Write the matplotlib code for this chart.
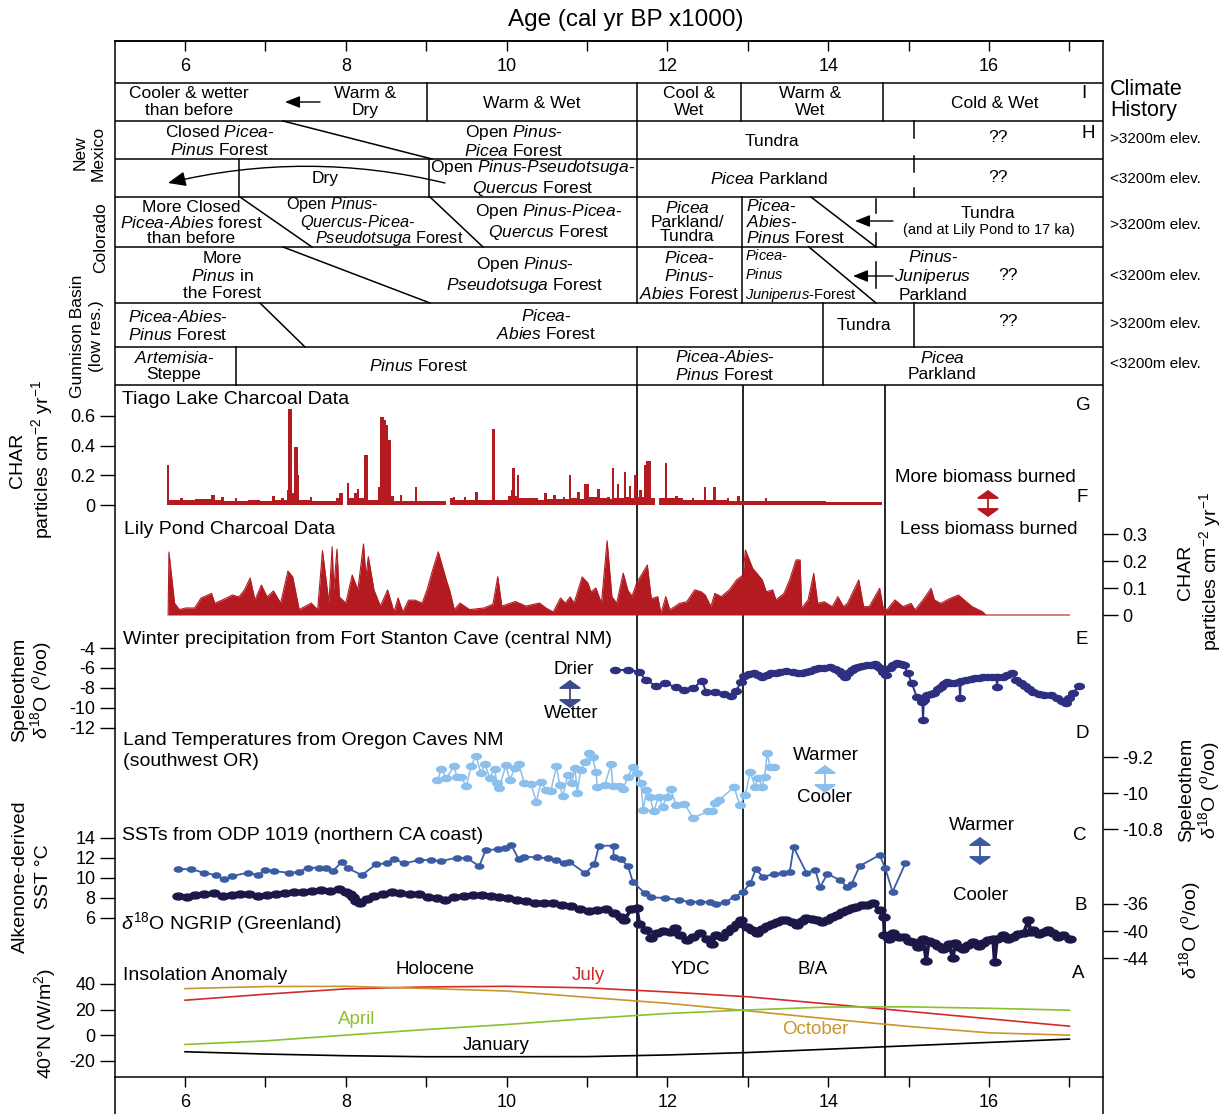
import numpy as np
import matplotlib
matplotlib.use("Agg")
import matplotlib.pyplot as plt
from matplotlib.path import Path
from matplotlib.transforms import Affine2D

plt.rcParams['font.family'] = ['Liberation Sans', 'DejaVu Sans']
plt.rcParams['mathtext.fontset'] = 'custom'
plt.rcParams['mathtext.rm'] = 'Liberation Sans'
plt.rcParams['mathtext.it'] = 'Liberation Sans:italic'
plt.rcParams['mathtext.bf'] = 'Liberation Sans:bold'
plt.rcParams['axes.unicode_minus'] = False

# ---------------------------------------------------------
# Data (ages in cal yr BP x1000)
# ---------------------------------------------------------
event_ages = [11.62, 12.94, 14.71]   # YDC / B-A boundaries

# Tiago Lake CHAR (step series: value holds until next age)
tiago = np.array([
    [5.77, 0.27], [5.80, 0.035], [5.94, 0.045], [5.97, 0.035], [6.12, 0.04],
    [6.32, 0.07], [6.37, 0.035], [6.45, 0.055], [6.49, 0.03], [6.62, 0.045],
    [6.65, 0.03], [6.78, 0.035], [6.93, 0.03], [7.08, 0.06], [7.12, 0.035],
    [7.20, 0.045], [7.23, 0.035], [7.27, 0.10], [7.28, 0.65], [7.33, 0.08],
    [7.36, 0.39], [7.40, 0.20], [7.42, 0.035], [7.55, 0.055], [7.58, 0.03],
    [7.75, 0.03], [7.88, 0.05], [7.92, 0.08], [7.96, 0.0], [8.01, 0.15],
    [8.04, 0.05], [8.10, 0.08], [8.14, 0.11], [8.17, 0.045], [8.23, 0.34],
    [8.27, 0.035], [8.40, 0.12], [8.42, 0.59], [8.47, 0.57], [8.50, 0.54],
    [8.53, 0.44], [8.56, 0.06], [8.60, 0.03], [8.67, 0.065], [8.70, 0.03],
    [8.86, 0.12], [8.89, 0.03], [9.00, 0.025], [9.25, 0.0], [9.29, 0.045],
    [9.33, 0.055], [9.36, 0.035], [9.47, 0.055], [9.50, 0.035], [9.61, 0.09],
    [9.64, 0.035], [9.82, 0.51], [9.85, 0.035], [10.02, 0.06], [10.05, 0.10],
    [10.07, 0.25], [10.10, 0.06], [10.13, 0.20], [10.16, 0.05], [10.26, 0.045],
    [10.36, 0.045], [10.39, 0.035], [10.47, 0.08], [10.50, 0.04], [10.58, 0.07],
    [10.61, 0.04], [10.70, 0.055], [10.73, 0.04], [10.77, 0.20], [10.80, 0.045],
    [10.88, 0.09], [10.91, 0.04], [10.96, 0.14], [11.02, 0.055], [11.13, 0.11],
    [11.16, 0.045], [11.25, 0.055], [11.28, 0.04], [11.31, 0.25], [11.34, 0.045],
    [11.37, 0.14], [11.40, 0.045], [11.46, 0.22], [11.49, 0.055], [11.52, 0.13],
    [11.55, 0.045], [11.59, 0.20], [11.62, 0.055], [11.65, 0.10], [11.68, 0.055],
    [11.71, 0.27], [11.74, 0.30], [11.79, 0.05], [11.85, 0.0], [11.90, 0.045],
    [11.97, 0.28], [12.00, 0.045], [12.10, 0.06], [12.13, 0.045], [12.16, 0.05],
    [12.19, 0.035], [12.30, 0.045], [12.33, 0.035], [12.45, 0.12], [12.48, 0.035],
    [12.57, 0.12], [12.60, 0.035], [12.74, 0.045], [12.77, 0.03], [12.87, 0.06],
    [12.90, 0.03], [13.21, 0.045], [13.24, 0.025], [13.94, 0.03], [13.97, 0.022],
    [14.67, 0.0],
])

# Lily Pond CHAR
lily = np.array([
    [5.79, 0.0], [5.80, 0.233], [5.87, 0.044], [5.93, 0.02], [6.01, 0.026],
    [6.12, 0.026], [6.20, 0.063], [6.33, 0.08], [6.37, 0.044], [6.46, 0.055],
    [6.59, 0.074], [6.67, 0.067], [6.74, 0.093], [6.81, 0.137], [6.87, 0.055],
    [6.95, 0.111], [7.02, 0.067], [7.10, 0.089], [7.19, 0.044], [7.28, 0.163],
    [7.34, 0.141], [7.42, 0.02], [7.57, 0.044], [7.65, 0.02], [7.71, 0.238],
    [7.79, 0.044], [7.83, 0.253], [7.85, 0.093], [7.89, 0.244], [7.92, 0.067],
    [8.00, 0.044], [8.08, 0.148], [8.15, 0.093], [8.22, 0.263], [8.25, 0.141],
    [8.28, 0.216], [8.35, 0.093], [8.43, 0.033], [8.52, 0.093], [8.60, 0.011],
    [8.65, 0.063], [8.71, 0.011], [8.78, 0.055], [8.86, 0.055], [8.95, 0.044],
    [9.01, 0.093], [9.08, 0.167], [9.15, 0.234], [9.25, 0.13], [9.29, 0.093],
    [9.35, 0.02], [9.42, 0.044], [9.54, 0.02], [9.72, 0.026], [9.83, 0.04],
    [9.89, 0.142], [9.94, 0.033], [10.11, 0.05], [10.24, 0.033], [10.34, 0.04],
    [10.41, 0.044], [10.49, 0.026], [10.58, 0.011], [10.67, 0.063], [10.73, 0.044],
    [10.79, 0.067], [10.84, 0.044], [10.94, 0.141], [11.01, 0.119], [11.05, 0.085],
    [11.11, 0.10], [11.18, 0.044], [11.25, 0.275], [11.31, 0.067], [11.37, 0.044],
    [11.45, 0.155], [11.51, 0.09], [11.56, 0.07], [11.62, 0.12], [11.68, 0.15],
    [11.75, 0.185], [11.80, 0.06], [11.88, 0.068], [11.92, 0.006], [11.98, 0.068],
    [12.03, 0.019], [12.15, 0.043], [12.24, 0.049], [12.34, 0.093], [12.42, 0.086],
    [12.47, 0.074], [12.54, 0.031], [12.59, 0.08], [12.67, 0.068], [12.77, 0.093],
    [12.86, 0.13], [12.94, 0.148], [12.97, 0.241], [13.06, 0.173], [13.18, 0.13],
    [13.23, 0.086], [13.31, 0.093], [13.35, 0.056], [13.45, 0.08], [13.52, 0.13],
    [13.60, 0.204], [13.65, 0.204], [13.67, 0.025], [13.75, 0.056], [13.82, 0.154],
    [13.87, 0.043], [13.95, 0.049], [14.05, 0.031], [14.12, 0.068], [14.19, 0.031],
    [14.24, 0.043], [14.38, 0.13], [14.44, 0.031], [14.51, 0.031], [14.64, 0.099],
    [14.68, 0.031], [14.73, 0.019], [14.83, 0.056], [14.93, 0.031], [15.03, 0.043],
    [15.08, 0.019], [15.18, 0.056], [15.28, 0.099], [15.32, 0.056], [15.40, 0.043],
    [15.52, 0.062], [15.62, 0.074], [15.69, 0.056], [15.79, 0.031], [15.92, 0.012],
    [15.96, 0.0], [17.00, 0.0],
])

# Fort Stanton Cave speleothem d18O
stanton = np.array([
    [11.35, -6.2], [11.51, -6.2], [11.65, -6.37], [11.73, -7.2], [11.86, -7.8],
    [11.97, -7.53], [12.11, -7.93], [12.21, -8.2], [12.32, -8.03], [12.43, -7.27],
    [12.48, -8.37], [12.59, -8.43], [12.70, -8.63], [12.79, -8.8], [12.85, -8.3],
    [12.92, -7.37], [12.95, -6.8], [13.02, -6.6], [13.08, -6.53], [13.13, -6.7],
    [13.18, -6.87], [13.24, -6.7], [13.29, -6.53], [13.35, -6.45], [13.40, -6.37],
    [13.48, -6.3], [13.56, -6.37], [13.62, -6.45], [13.67, -6.53], [13.72, -6.4],
    [13.77, -6.27], [13.83, -6.1], [13.89, -6.03], [13.95, -5.95], [14.02, -5.93],
    [14.08, -6.1], [14.13, -6.27], [14.17, -6.6], [14.21, -6.87], [14.25, -6.5],
    [14.29, -6.2], [14.33, -6.0], [14.37, -5.87], [14.42, -5.8], [14.48, -5.7],
    [14.53, -5.65], [14.58, -5.6], [14.61, -5.8], [14.64, -6.03], [14.68, -6.4],
    [14.72, -6.7], [14.77, -6.03], [14.81, -5.7], [14.86, -5.53], [14.90, -5.55],
    [14.94, -5.7], [14.99, -6.53], [15.04, -7.53], [15.10, -8.87], [15.17, -9.37],
    [15.18, -11.2], [15.19, -9.2], [15.23, -8.7], [15.28, -8.6], [15.32, -8.47],
    [15.36, -8.1], [15.40, -7.87], [15.44, -7.6], [15.48, -7.37], [15.52, -7.45],
    [15.56, -7.53], [15.63, -7.4], [15.64, -9.0], [15.65, -7.3], [15.72, -7.2],
    [15.78, -7.1], [15.83, -7.03], [15.88, -6.95], [15.93, -6.87], [15.98, -6.9],
    [16.04, -6.87], [16.09, -6.9], [16.10, -7.87], [16.11, -6.9], [16.17, -6.87],
    [16.23, -6.7], [16.29, -6.53], [16.34, -7.2], [16.40, -7.5], [16.45, -7.8],
    [16.50, -8.1], [16.55, -8.37], [16.62, -8.6], [16.69, -8.7], [16.77, -8.7],
    [16.85, -9.03], [16.91, -9.3], [16.96, -9.53], [17.00, -9.0], [17.04, -8.53],
    [17.12, -7.8],
])

# Oregon Caves speleothem d18O
oregon = np.array([
    [9.14, -9.71], [9.19, -9.47], [9.25, -9.67], [9.35, -9.40], [9.38, -9.65],
    [9.43, -9.65], [9.50, -9.84], [9.56, -9.39], [9.62, -9.18], [9.68, -9.55],
    [9.73, -9.36], [9.79, -9.66], [9.85, -9.47], [9.88, -9.77], [9.91, -9.88],
    [9.99, -9.38], [10.04, -9.71], [10.10, -9.45], [10.15, -9.36], [10.22, -9.77],
    [10.30, -9.79], [10.37, -10.19], [10.43, -9.75], [10.49, -9.93], [10.55, -9.96],
    [10.62, -9.40], [10.66, -9.82], [10.70, -10.07], [10.76, -9.60], [10.81, -9.77],
    [10.85, -9.45], [10.88, -10.00], [10.92, -9.49], [10.98, -9.32], [11.02, -9.10],
    [11.07, -9.20], [11.11, -9.53], [11.13, -9.86], [11.22, -9.82], [11.30, -9.36],
    [11.32, -9.84], [11.40, -9.84], [11.45, -9.90], [11.51, -9.64], [11.57, -9.43],
    [11.62, -9.55], [11.67, -9.77], [11.70, -10.38], [11.74, -9.93], [11.78, -10.08],
    [11.83, -10.41], [11.89, -10.08], [11.94, -10.30], [11.99, -10.08], [12.04, -9.92],
    [12.11, -10.27], [12.21, -10.24], [12.32, -10.55], [12.51, -10.41], [12.56, -10.41],
    [12.59, -10.23], [12.64, -10.16], [12.83, -9.87], [12.90, -10.27], [12.97, -10.04],
    [13.03, -9.53], [13.09, -9.86], [13.13, -9.67], [13.18, -9.86], [13.21, -9.64],
    [13.24, -9.12], [13.28, -9.43], [13.33, -9.43],
])

# ODP 1019 alkenone SST (deg C)
sst = np.array([
    [5.91, 10.85], [6.07, 10.85], [6.24, 10.48], [6.38, 10.25], [6.49, 9.82],
    [6.58, 10.15], [6.78, 10.48], [6.91, 10.25], [7.00, 10.75], [7.11, 10.65],
    [7.29, 10.48], [7.42, 10.58], [7.53, 10.98], [7.67, 10.98], [7.75, 10.98],
    [7.84, 10.65], [7.95, 11.58], [8.03, 10.92], [8.20, 10.25], [8.38, 11.35],
    [8.51, 11.42], [8.60, 11.85], [8.73, 11.42], [8.91, 11.75], [9.06, 11.75],
    [9.18, 11.65], [9.38, 11.98], [9.51, 11.92], [9.66, 11.15], [9.74, 12.75],
    [9.89, 12.82], [9.98, 12.92], [10.06, 13.25], [10.15, 11.82], [10.22, 12.08],
    [10.38, 12.02], [10.51, 11.92], [10.62, 11.75], [10.71, 11.48], [10.78, 11.58],
    [10.98, 10.42], [11.09, 11.32], [11.15, 13.18], [11.33, 13.18], [11.33, 12.02],
    [11.42, 11.82], [11.51, 11.15], [11.57, 9.58], [11.72, 8.42], [11.80, 8.02],
    [11.97, 7.98], [12.14, 7.75], [12.28, 7.58], [12.41, 7.58], [12.53, 7.58],
    [12.61, 7.35], [12.72, 7.58], [12.84, 8.08], [12.94, 8.58], [13.03, 9.42],
    [13.10, 10.82], [13.19, 10.08], [13.32, 10.35], [13.44, 10.42], [13.52, 10.52],
    [13.57, 13.02], [13.73, 10.48], [13.84, 10.75], [13.90, 9.08], [13.99, 10.35],
    [14.15, 9.75], [14.23, 9.08], [14.29, 9.32], [14.39, 11.15], [14.64, 12.25],
    [14.71, 10.92], [14.80, 8.58], [14.96, 11.42],
])

# NGRIP d18O (permil)
ngrip = np.array([
    [5.91, -34.8], [6.02, -34.9], [6.13, -34.7], [6.24, -34.6], [6.36, -34.4],
    [6.47, -34.8], [6.58, -34.7], [6.69, -34.5], [6.80, -34.5], [6.91, -34.8],
    [7.02, -34.7], [7.13, -34.5], [7.24, -34.4], [7.35, -34.3], [7.47, -34.2],
    [7.58, -34.1], [7.69, -34.0], [7.80, -34.1], [7.91, -33.8], [8.00, -34.2],
    [8.05, -34.6], [8.09, -34.9], [8.13, -35.5], [8.18, -35.8], [8.26, -35.2],
    [8.35, -34.8], [8.46, -34.5], [8.57, -34.3], [8.68, -34.4], [8.80, -34.5],
    [8.91, -34.6], [9.02, -34.9], [9.13, -35.1], [9.24, -35.4], [9.35, -35.0],
    [9.47, -34.8], [9.58, -34.7], [9.69, -34.7], [9.80, -34.8], [9.91, -34.9],
    [10.02, -35.1], [10.13, -35.4], [10.24, -35.6], [10.35, -35.8], [10.46, -35.8],
    [10.58, -35.9], [10.69, -36.1], [10.80, -36.3], [10.91, -36.7], [11.02, -37.0],
    [11.13, -36.9], [11.24, -36.8], [11.33, -37.3], [11.42, -37.9], [11.46, -38.4],
    [11.55, -36.8], [11.62, -36.6], [11.65, -38.9], [11.74, -39.9], [11.80, -41.0],
    [11.87, -40.3], [11.95, -40.0], [12.03, -40.1], [12.10, -39.6], [12.16, -40.6],
    [12.24, -41.3], [12.32, -40.8], [12.40, -40.2], [12.49, -41.1], [12.55, -41.9],
    [12.61, -40.6], [12.68, -40.9], [12.74, -40.1], [12.80, -39.5], [12.86, -38.9],
    [12.92, -38.4], [12.99, -39.4], [13.05, -39.8], [13.11, -40.3], [13.18, -39.7],
    [13.24, -39.3], [13.30, -38.9], [13.36, -38.6], [13.42, -38.4], [13.48, -38.3],
    [13.55, -38.7], [13.61, -39.1], [13.67, -38.5], [13.73, -38.1], [13.80, -38.2],
    [13.86, -38.3], [13.92, -38.6], [13.98, -38.4], [14.05, -37.9], [14.11, -37.6],
    [14.17, -37.2], [14.23, -36.9], [14.29, -36.6], [14.35, -36.4], [14.42, -36.2],
    [14.48, -36.1], [14.56, -35.9], [14.64, -36.9], [14.69, -37.9], [14.70, -40.6],
    [14.75, -41.2], [14.81, -40.3], [14.88, -40.9], [14.94, -40.8], [15.00, -41.4],
    [15.06, -41.6], [15.12, -42.3], [15.18, -41.1], [15.22, -44.4], [15.25, -41.5],
    [15.31, -41.8], [15.37, -42.2], [15.43, -42.6], [15.50, -41.9], [15.55, -44.0],
    [15.58, -41.8], [15.63, -42.3], [15.68, -42.6], [15.74, -42.0], [15.80, -41.6],
    [15.87, -42.2], [15.93, -41.8], [15.99, -41.3], [16.05, -41.1], [16.07, -44.5],
    [16.10, -41.2], [16.18, -40.6], [16.24, -41.2], [16.30, -40.8], [16.36, -40.4],
    [16.43, -40.3], [16.49, -38.4], [16.52, -40.1], [16.55, -39.9], [16.62, -40.4],
    [16.68, -40.1], [16.74, -39.8], [16.80, -40.3], [16.86, -40.8], [16.92, -40.6],
    [17.01, -41.1],
])

# 40N insolation anomaly (W/m2)
ins_age = [6, 7, 8, 9, 10, 11, 12, 13, 14, 15, 16, 17]
ins_july = [27.3, 32.0, 36.2, 37.7, 38.2, 37.0, 33.8, 30.0, 24.4, 18.6, 12.8, 7.0]
ins_oct = [36.4, 38.0, 38.2, 36.5, 34.5, 29.6, 24.9, 19.0, 12.7, 6.8, 1.8, 0.0]
ins_apr = [-7.3, -4.5, 0.0, 4.4, 8.3, 12.9, 16.9, 19.7, 22.0, 22.1, 21.0, 19.5]
ins_jan = [-13.0, -14.8, -16.1, -16.9, -16.9, -16.8, -15.5, -13.6, -11.0, -8.3, -5.7, -3.1]

age_ticks = list(range(6, 18))
age_labels = [str(a) if a % 2 == 0 else '' for a in age_ticks]

# ---------------------------------------------------------
# Figure geometry (pixels)
# ---------------------------------------------------------
W, H = 1231, 1114
L_PX, R_PX = 115, 1103
PX6, PX_PER_KYR = 185, 80.4
X0 = 6 - (PX6 - L_PX) / PX_PER_KYR
X1 = 6 + (R_PX - PX6) / PX_PER_KYR
LS = 1.13

RED = '#b31b21'
NAVY = '#2e2f80'
LBLUE = '#8bbfec'
SBLUE = '#3b5ba2'
DNAVY = '#1b1848'

fig = plt.figure(figsize=(W / 100, H / 100), dpi=100)

# frame axes in pixel coordinates (y down)
ax = fig.add_axes([L_PX / W, 0, (R_PX - L_PX) / W, (H - 41) / H])
ax.set_xlim(L_PX, R_PX)
ax.set_ylim(H, 41)
ax.set_xticks([])
ax.set_yticks([])
ax.patch.set_alpha(0)
ax.spines['bottom'].set_visible(False)
for s in ax.spines.values():
    s.set_linewidth(1.1)


def scale_axis(y_px):
    a = fig.add_axes([L_PX / W, 1 - y_px / H, (R_PX - L_PX) / W, 0.0005])
    a.set_xlim(X0, X1)
    for s in ['top', 'left', 'right']:
        a.spines[s].set_visible(False)
    a.spines['bottom'].set_linewidth(1.1)
    a.patch.set_alpha(0)
    a.set_yticks([])
    a.set_xticks(age_ticks)
    a.set_xticklabels(age_labels)
    a.tick_params(axis='x', direction='out', length=7, width=1, pad=5, labelsize=13)
    return a


scale_axis(41)
scale_axis(1077)

# event lines
ev = fig.add_axes([L_PX / W, 1 - 1077 / H, (R_PX - L_PX) / W, (1077 - 385) / H])
ev.set_xlim(X0, X1)
ev.axis('off')
for a in event_ages:
    ev.axvline(a, color='k', lw=1.2)

# ---------------------------------------------------------
# Climate / vegetation table
# ---------------------------------------------------------
for y in [83, 121, 159, 197, 247, 303, 347, 385]:
    ax.plot([L_PX, R_PX], [y, y], color='k', lw=1.1)

vsegs = [(427, 83, 121), (637, 83, 121), (741, 83, 121), (883, 83, 121),
         (637, 121, 159),
         (239, 159, 197), (429, 159, 197), (637, 159, 197),
         (637, 197, 247), (742, 197, 247), (876, 199, 213), (876, 233, 247),
         (637, 247, 303), (742, 247, 303), (876, 262, 288),
         (823, 303, 347), (914, 303, 347),
         (236, 347, 385), (637, 347, 385), (823, 347, 385),
         (914, 121, 138), (914, 156, 172), (914, 188, 197)]
for x, y0, y1 in vsegs:
    ax.plot([x, x], [y0, y1], color='k', lw=1.1)

diags = [(283, 121, 432, 159), (240, 197, 312, 247), (430, 197, 483, 247),
         (811, 197, 876, 247), (283, 247, 430, 303), (809, 247, 876, 303),
         (260, 303, 305, 347)]
for x0, y0, x1, y1 in diags:
    ax.plot([x0, x1], [y0, y1], color='k', lw=1.1)


def it(s):
    return r'$\mathit{' + s + '}$'


def t(x, y, s, fs=12.5, ha='center', color='k', ls=LS):
    ax.text(x, y, s, fontsize=fs, ha=ha, va='center', color=color,
            linespacing=ls, multialignment='center' if ha == 'center' else ha)


# row I
t(189, 102, 'Cooler & wetter\nthan before')
t(365, 102, 'Warm &\nDry')
t(532, 103, 'Warm & Wet')
t(689, 102, 'Cool &\nWet')
t(810, 102, 'Warm &\nWet')
t(995, 103, 'Cold & Wet')
t(1084, 94, 'I', fs=13.5)
# row H1
t(220, 141, 'Closed ' + it('Picea') + '-\n' + it('Pinus') + ' Forest')
t(514, 141, 'Open ' + it('Pinus') + '-\n' + it('Picea') + ' Forest')
t(772, 141, 'Tundra')
t(998, 137, '??')
t(1088, 133, 'H', fs=13.5)
# row H2
t(325, 179, 'Dry')
t(533, 178, 'Open ' + it('Pinus') + '-' + it('Pseudotsuga') + '-\n' + it('Quercus') + ' Forest')
t(769, 179, it('Picea') + ' Parkland')
t(998, 178, '??')
# row C1
t(191, 223, 'More Closed\n' + it('Picea') + '-' + it('Abies') + ' forest\nthan before', ls=0.97)
t(332, 205, 'Open ' + it('Pinus') + '-', fs=11.8)
t(358, 222, it('Quercus') + '-' + it('Picea') + '-', fs=11.8)
t(389, 239, it('Pseudotsuga') + ' Forest', fs=11.8)
t(549, 222, 'Open ' + it('Pinus') + '-' + it('Picea') + '-\n' + it('Quercus') + ' Forest')
t(687, 222, it('Picea') + '\nParkland/\nTundra', ls=0.93)
t(746, 222, it('Picea') + '-\n' + it('Abies') + '-\n' + it('Pinus') + ' Forest', ha='left', ls=0.97)
t(988, 214, 'Tundra')
t(989, 230, '(and at Lily Pond to 17 ka)', fs=10.5)
# row C2
t(222, 276, 'More\n' + it('Pinus') + ' in\nthe Forest')
t(525, 275, 'Open ' + it('Pinus') + '-\n' + it('Pseudotsuga') + ' Forest')
t(689, 276, it('Picea') + '-\n' + it('Pinus') + '-\n' + it('Abies') + ' Forest')
t(745, 276, it('Picea') + '-\n' + it('Pinus') + '\n' + it('Juniperus') + '-Forest', fs=10.5,
  ha='left', ls=1.36)
t(933, 276, it('Pinus') + '-\n' + it('Juniperus') + '\nParkland')
t(1008, 276, '??')
# row G1
t(178, 326, it('Picea') + '-' + it('Abies') + '-\n' + it('Pinus') + ' Forest')
t(546, 325, it('Picea') + '-\n' + it('Abies') + ' Forest')
t(864, 325, 'Tundra')
t(1008, 322, '??')
# row G2
t(174, 366, it('Artemisia') + '-\nSteppe')
t(419, 366, it('Pinus') + ' Forest')
t(725, 366, it('Picea') + '-' + it('Abies') + '-\n' + it('Pinus') + ' Forest')
t(942, 366, it('Picea') + '\nParkland')

# arrows in table
arrow_k = dict(arrowstyle='-|>,head_length=0.5,head_width=0.2', color='k', lw=1.0,
               shrinkA=0, shrinkB=0, mutation_scale=18)
ax.annotate('', xy=(285, 102), xytext=(320, 102), arrowprops=arrow_k)
ax.annotate('', xy=(855, 221), xytext=(893, 221), arrowprops=arrow_k)
ax.annotate('', xy=(853, 276), xytext=(893, 276), arrowprops=arrow_k)
ax.annotate('', xy=(168, 183), xytext=(445, 183),
            arrowprops=dict(arrowstyle='-|>,head_length=0.6,head_width=0.25', color='k',
                            lw=1.0, shrinkA=0, shrinkB=0, mutation_scale=18,
                            connectionstyle='arc3,rad=0.12'))

# side labels of table
t(1110, 100, 'Climate\nHistory', fs=15.5, ha='left', ls=0.95)
for y, s in [(139, '>3200m elev.'), (179, '<3200m elev.'), (225, '>3200m elev.'),
             (276, '<3200m elev.'), (324, '>3200m elev.'), (364, '<3200m elev.')]:
    t(1110, y, s, fs=11, ha='left')
ax.text(89, 153, 'New\nMexico', rotation=90, fontsize=12.5, ha='center', va='center',
        multialignment='center', linespacing=1.3)
ax.text(101, 238, 'Colorado', rotation=90, fontsize=12.5, ha='center', va='center')
ax.text(87, 336, 'Gunnison Basin\n(low res.)', rotation=90, fontsize=12.5, ha='center',
        va='center', multialignment='center', linespacing=1.25)

fig.text(626 / W, 1 - 20 / H, 'Age (cal yr BP x1000)', fontsize=17.5, ha='center', va='center')


# ---------------------------------------------------------
# Data panels
# ---------------------------------------------------------
def panel(top, bot, cal, side, ticks, labels):
    (v1, y1), (v2, y2) = cal
    k = (v2 - v1) / (y2 - y1)
    a = fig.add_axes([L_PX / W, 1 - bot / H, (R_PX - L_PX) / W, (bot - top) / H])
    a.set_xlim(X0, X1)
    a.set_ylim(v1 + (bot - y1) * k, v1 + (top - y1) * k)
    a.patch.set_alpha(0)
    for s in a.spines.values():
        s.set_visible(False)
    a.set_xticks([])
    a.yaxis.set_ticks_position(side)
    a.set_yticks(ticks)
    a.set_yticklabels(labels)
    a.tick_params(axis='y', direction='out', length=11, width=1, pad=3, labelsize=13)
    return a


ell = Path.unit_circle().transformed(Affine2D().scale(1.6, 1.0))

# G: Tiago Lake
ag = panel(388, 512, [(0, 505), (0.6, 416)], 'left', [0, 0.2, 0.4, 0.6],
           ['0', '0.2', '0.4', '0.6'])
ag.fill_between(tiago[:, 0], tiago[:, 1], 0, step='post', color=RED, lw=0)

# F: Lily Pond
af = panel(520, 622, [(0, 615), (0.3, 534)], 'right', [0, 0.1, 0.2, 0.3],
           ['0', '0.1', '0.2', '0.3'])
af.fill_between(lily[:, 0], lily[:, 1], 0, color=RED, lw=0)
af.plot(lily[:, 0], lily[:, 1], color=RED, lw=0.8)

# E: Fort Stanton
ae = panel(636, 740, [(-4, 648), (-12, 728)], 'left', [-12, -10, -8, -6, -4],
           ['-12', '-10', '-8', '-6', '-4'])
ae.plot(stanton[:, 0], stanton[:, 1], color=NAVY, lw=1.4, marker=ell, ms=7,
        mec=NAVY, mfc=NAVY)

# D: Oregon Caves
ad = panel(736, 840, [(-9.2, 757), (-10.8, 829)], 'right', [-10.8, -10, -9.2],
           ['-10.8', '-10', '-9.2'])
ad.plot(oregon[:, 0], oregon[:, 1], color=LBLUE, lw=1.1, marker=ell, ms=7,
        mec=LBLUE, mfc=LBLUE)

# C: ODP 1019 SST
ac = panel(826, 930, [(14, 837.5), (6, 917.7)], 'left', [6, 8, 10, 12, 14],
           ['6', '8', '10', '12', '14'])
ac.plot(sst[:, 0], sst[:, 1], color=SBLUE, lw=1.3, marker=ell, ms=6,
        mec=SBLUE, mfc=SBLUE)

# B: NGRIP
ab = panel(880, 970, [(-36, 904), (-44, 958.3)], 'right', [-44, -40, -36],
           ['-44', '-40', '-36'])
ab.plot(ngrip[:, 0], ngrip[:, 1], color=DNAVY, lw=2.6, marker=ell, ms=8,
        mec=DNAVY, mfc=DNAVY)

# A: insolation
aa = panel(962, 1075, [(40, 984), (-20, 1060.7)], 'left', [-20, 0, 20, 40],
           ['-20', '0', '20', '40'])
aa.plot(ins_age, ins_july, color='#d22a2a', lw=1.2)
aa.plot(ins_age, ins_oct, color='#c8962b', lw=1.2)
aa.plot(ins_age, ins_apr, color='#8bc12a', lw=1.2)
aa.plot(ins_age, ins_jan, color='k', lw=1.2)

# panel titles and annotations
for x, y, s in [(122, 399, 'Tiago Lake Charcoal Data'),
                (124, 530, 'Lily Pond Charcoal Data'),
                (123, 640, 'Winter precipitation from Fort Stanton Cave (central NM)'),
                (123, 751, 'Land Temperatures from Oregon Caves NM\n(southwest OR)'),
                (122, 836, 'SSTs from ODP 1019 (northern CA coast)'),
                (121, 923, r'$\delta^{18}$O NGRIP (Greenland)'),
                (123, 975, 'Insolation Anomaly')]:
    t(x, y, s, fs=14, ha='left', ls=1.38)

for x, y, s in [(1083, 405, 'G'), (1082, 498, 'F'), (1082, 640, 'E'), (1082, 733, 'D'),
                (1080, 836, 'C'), (1081, 905, 'B'), (1078, 974, 'A')]:
    t(x, y, s, fs=13.5)

t(985, 478, 'More biomass burned', fs=13.5)
t(989, 530, 'Less biomass burned', fs=13.5)
t(574, 670, 'Drier', fs=13.5)
t(571, 714, 'Wetter', fs=13.5)
t(826, 755, 'Warmer', fs=13.5)
t(825, 798, 'Cooler', fs=13.5)
t(982, 825, 'Warmer', fs=13.5)
t(980, 896, 'Cooler', fs=13.5)
t(435, 970, 'Holocene', fs=13.5)
t(690, 970, 'YDC', fs=13.5)
t(813, 970, 'B/A', fs=13.5)
t(588, 976, 'July', fs=13.5, color='#d22a2a')
t(357, 1020, 'April', fs=13.5, color='#8bc12a')
t(815, 1030, 'October', fs=13.5, color='#c8962b')
t(496, 1045, 'January', fs=13.5)

for x, y0, y1, c in [(988, 490, 517, RED), (570, 680, 708, '#3b4a8a'),
                     (825, 765, 793, LBLUE), (980, 837, 865, SBLUE)]:
    ax.annotate('', xy=(x, y0), xytext=(x, y1),
                arrowprops=dict(arrowstyle='<|-|>,head_length=0.25,head_width=0.35',
                                color=c, lw=1.3, shrinkA=0, shrinkB=0, mutation_scale=20))

# axis titles
ax.text(32, 460, 'CHAR\nparticles cm$^{-2}$ yr$^{-1}$', rotation=90, fontsize=14,
        ha='center', va='center', multialignment='center', linespacing=1.14)
ax.text(1200, 572, 'CHAR\nparticles cm$^{-2}$ yr$^{-1}$', rotation=90, fontsize=14,
        ha='center', va='center', multialignment='center', linespacing=1.18)
ax.text(33, 690, 'Speleothem\n' + r'$\delta^{18}$O ($^{\rm o}$/oo)', rotation=90,
        fontsize=14, ha='center', va='center', multialignment='center', linespacing=1.0)
ax.text(1200, 790, 'Speleothem\n' + r'$\delta^{18}$O ($^{\rm o}$/oo)', rotation=90,
        fontsize=14, ha='center', va='center', multialignment='center', linespacing=1.08)
ax.text(32, 877, 'Alkenone-derived\nSST °C', rotation=90, fontsize=14,
        ha='center', va='center', multialignment='center', linespacing=1.4)
ax.text(1190, 930, r'$\delta^{18}$O ($^{\rm o}$/oo)', rotation=90, fontsize=14,
        ha='center', va='center')
ax.text(45, 1023, '40°N (W/m$^{2}$)', rotation=90, fontsize=14, ha='center', va='center')

fig.savefig('out.png', dpi=100)
